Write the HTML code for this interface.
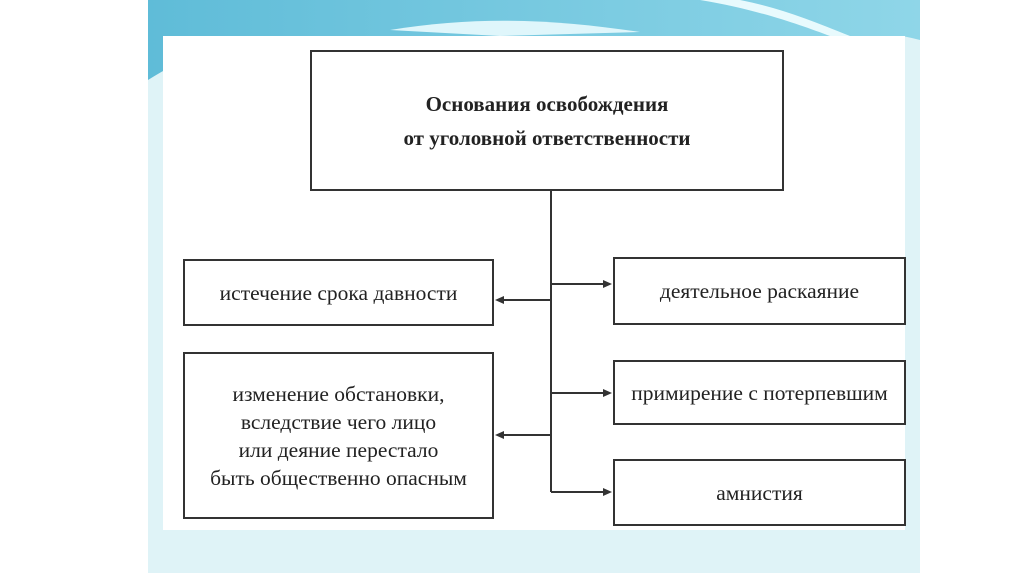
<!DOCTYPE html>
<html><head><meta charset="utf-8"><style>
body{margin:0;width:1024px;height:574px;background:#fff;position:relative;overflow:hidden;font-family:"Liberation Serif",serif;}
.slide{position:absolute;left:148px;top:0;width:772px;height:573px;background:#dff3f7;}
.panel{position:absolute;left:163px;top:36px;width:742px;height:494px;background:#fff;}
.box{position:absolute;border:2px solid #333;background:#fff;display:flex;align-items:center;justify-content:center;text-align:center;font-size:21.5px;line-height:24px;color:#222;box-sizing:border-box;}
svg{position:absolute;left:0;top:0}
</style></head><body>
<div class="slide"></div>
<svg width="1024" height="574">
<defs><linearGradient id="g" x1="0" x2="1"><stop offset="0" stop-color="#5fbcd8"/><stop offset="1" stop-color="#8fd6e8"/></linearGradient></defs>
<path d="M148 0 H920 V36 H148 Z" fill="url(#g)"/>
<path d="M148 0 H920 V40 C800 10 640 40 500 30 C380 20 260 10 148 80 Z" fill="url(#g)"/>
<path d="M390 30 C480 15 560 20 640 32 L500 36 Z" fill="#dff6fb"/>
<path d="M700 0 C760 10 800 25 830 36 L850 36 C810 20 780 8 740 0Z" fill="#e8fafd"/>
</svg>
<div class="panel"></div>
<svg width="1024" height="574">
<g stroke="#333" stroke-width="2" fill="none">
<line x1="551" y1="190" x2="551" y2="492"/>
<line x1="551" y1="300" x2="502" y2="300"/>
<line x1="551" y1="435" x2="502" y2="435"/>
<line x1="551" y1="284" x2="604" y2="284"/>
<line x1="551" y1="393" x2="604" y2="393"/>
<line x1="551" y1="492" x2="604" y2="492"/>
</g>
<g fill="#333">
<path d="M495 300 L504 296 L504 304Z"/><path d="M495 435 L504 431 L504 439Z"/>
<path d="M612 284 L603 280 L603 288Z"/><path d="M612 393 L603 389 L603 397Z"/><path d="M612 492 L603 488 L603 496Z"/>
</g>
</svg>
<div class="box" style="left:310px;top:50px;width:474px;height:141px;font-weight:bold;font-size:21px;line-height:34px">Основания освобождения<br>от уголовной ответственности</div>
<div class="box" style="left:183px;top:259px;width:311px;height:67px">истечение срока давности</div>
<div class="box" style="left:183px;top:352px;width:311px;height:167px;line-height:28px">изменение обстановки,<br>вследствие чего лицо<br>или деяние перестало<br>быть общественно опасным</div>
<div class="box" style="left:613px;top:257px;width:293px;height:68px">деятельное раскаяние</div>
<div class="box" style="left:613px;top:360px;width:293px;height:65px">примирение с потерпевшим</div>
<div class="box" style="left:613px;top:459px;width:293px;height:67px">амнистия</div>
</body></html>
